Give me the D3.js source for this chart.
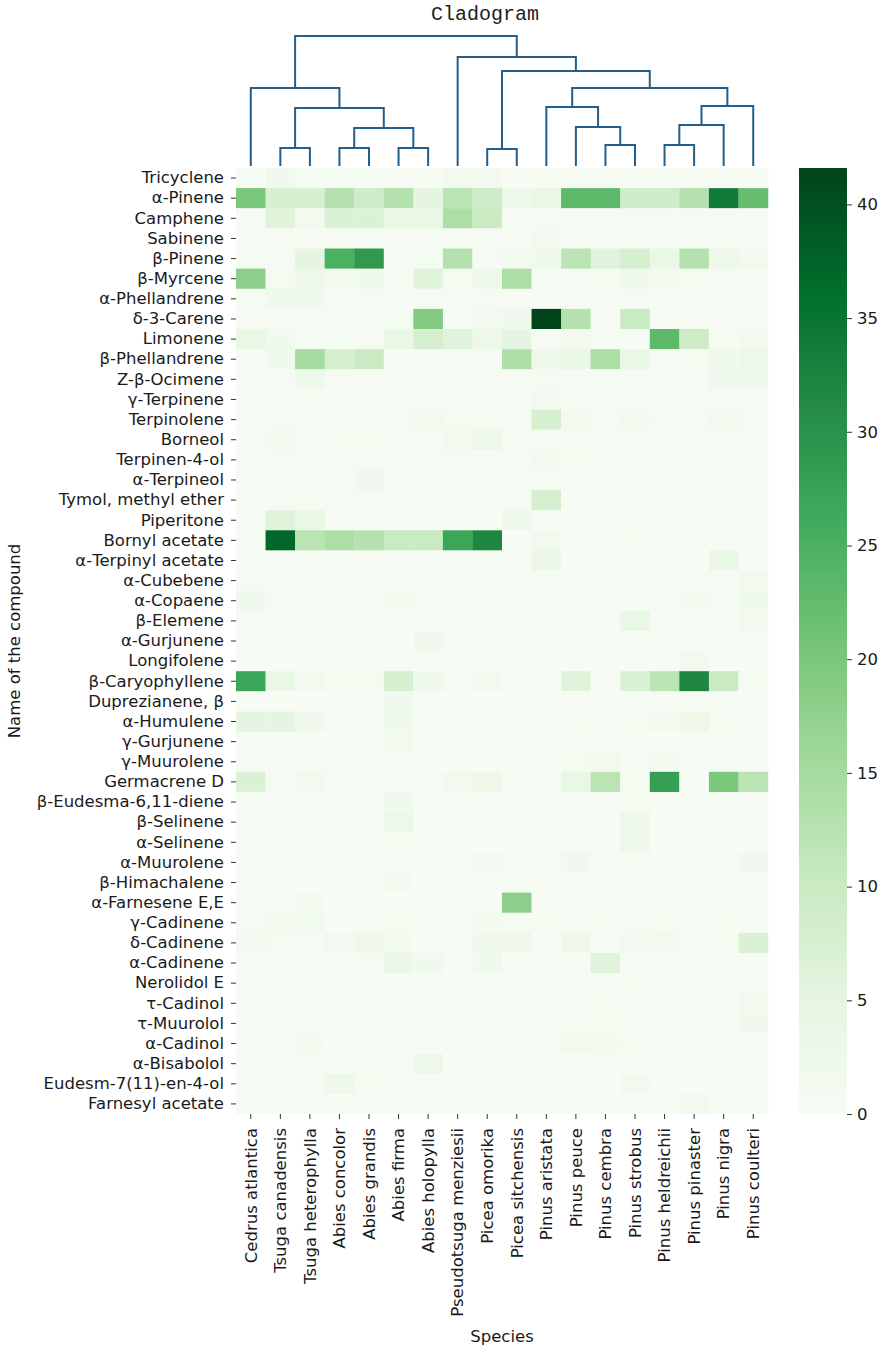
<!DOCTYPE html>
<html>
<head>
<meta charset="utf-8">
<script src="https://cdn.jsdelivr.net/npm/d3@7"></script>
<style>
  body { margin: 0; background: #fff; }
  svg { display: block; }
  .tick text { font-family: "DejaVu Sans", sans-serif; font-size: 16.5px; fill: #1a1a1a; }
  .tick line { stroke: #333; }
  .axis-title { font-family: "DejaVu Sans", sans-serif; font-size: 16.5px; fill: #1a1a1a; }
</style>
</head>
<body>
<div id="wrapper"></div>
<script>
// species in clustered (dendrogram leaf) order
const species = ["Cedrus atlantica", "Tsuga canadensis", "Tsuga heterophylla", "Abies concolor",
  "Abies grandis", "Abies firma", "Abies holopylla", "Pseudotsuga menziesii", "Picea omorika",
  "Picea sitchensis", "Pinus aristata", "Pinus peuce", "Pinus cembra", "Pinus strobus",
  "Pinus heldreichii", "Pinus pinaster", "Pinus nigra", "Pinus coulteri"];

const compounds = ["Tricyclene", "α-Pinene", "Camphene", "Sabinene", "β-Pinene", "β-Myrcene",
  "α-Phellandrene", "δ-3-Carene", "Limonene", "β-Phellandrene", "Z-β-Ocimene", "γ-Terpinene",
  "Terpinolene", "Borneol", "Terpinen-4-ol", "α-Terpineol", "Tymol, methyl ether", "Piperitone",
  "Bornyl acetate", "α-Terpinyl acetate", "α-Cubebene", "α-Copaene", "β-Elemene", "α-Gurjunene",
  "Longifolene", "β-Caryophyllene", "Duprezianene, β", "α-Humulene", "γ-Gurjunene", "γ-Muurolene",
  "Germacrene D", "β-Eudesma-6,11-diene", "β-Selinene", "α-Selinene", "α-Muurolene",
  "β-Himachalene", "α-Farnesene E,E", "γ-Cadinene", "δ-Cadinene", "α-Cadinene", "Nerolidol E",
  "τ-Cadinol", "τ-Muurolol", "α-Cadinol", "α-Bisabolol", "Eudesm-7(11)-en-4-ol", "Farnesyl acetate"];

// % of each compound (rows) per species (columns)
const values = [
  [0.3, 2, 1, 0.8, 0.8, 0.5, 0.5, 1.5, 1.5, 0.3, 0.3, 0.5, 0.5, 0.5, 0.5, 0.5, 0.5, 0.5],
  [20, 8, 8, 13, 9, 13, 5, 12, 9, 3, 4, 23, 23, 9, 9, 13, 34, 22],
  [0.5, 6, 1.5, 7, 7, 4, 4, 14, 10, 0.5, 0.5, 0.5, 0.5, 0.5, 0.5, 0.5, 0.5, 0.5],
  [0.5, 0.5, 0.5, 0.5, 0.5, 0.5, 0.5, 0.5, 0.5, 0.5, 1.5, 0.5, 0.5, 0.5, 0.5, 0.5, 0.5, 0.5],
  [0.5, 0.5, 5, 25, 29, 0.5, 1, 13, 0.5, 1.5, 2, 12, 6, 8, 4, 13, 3, 1.5],
  [18, 1, 3, 1.5, 2, 0.5, 6, 1, 2.5, 14, 0.5, 0.5, 1, 2.5, 1.5, 1, 0.5, 0.5],
  [0.5, 2, 2, 0.5, 0.5, 0.5, 0.5, 0.5, 0.5, 0.5, 0.5, 0.5, 0.5, 0.5, 0.5, 0.5, 0.5, 0.5],
  [0.5, 0.5, 0.5, 0.5, 0.5, 1, 19, 0.5, 1.5, 2, 41.6, 13, 0.5, 10, 0.5, 0.5, 0.5, 0.5],
  [4, 2, 1, 1, 0.5, 4, 8, 6, 3, 5, 0.5, 1.5, 0.5, 0.5, 23, 9, 1, 1.5],
  [0.5, 2, 15, 8, 10, 0.5, 0.5, 0.5, 0.5, 14, 3, 4, 14, 4, 0.5, 1, 2, 3],
  [0.5, 0.5, 2.5, 0.5, 0.5, 0.5, 0.5, 0.5, 0.5, 0.5, 0.5, 0.5, 0.5, 0.5, 0.5, 0.5, 2, 2],
  [0.5, 0.5, 0.5, 0.5, 0.5, 0.5, 0.5, 0.5, 0.5, 0.5, 1.5, 0.5, 0.5, 0.5, 0.5, 0.5, 0.5, 0.5],
  [0.3, 0.5, 0.5, 0.5, 0.5, 0.5, 1.5, 1, 1, 0.5, 8, 1.5, 0.5, 1.5, 0.5, 0.5, 1.5, 0.5],
  [0.5, 1.5, 0.5, 1, 1, 0.5, 0.5, 1.5, 3, 0.5, 0.5, 0.5, 0.5, 0.5, 0.5, 0.5, 0.5, 0.5],
  [0.5, 0.5, 0.5, 0.5, 0.5, 0.5, 0.5, 0.8, 0.5, 0.5, 1.5, 1, 0.5, 0.5, 0.5, 0.5, 0.5, 0.5],
  [0.5, 0.5, 0.5, 0.5, 2, 0.5, 0.5, 0.5, 0.5, 0.5, 0.5, 0.5, 0.5, 0.5, 0.5, 0.5, 0.5, 0.5],
  [0.5, 0.5, 1, 0.5, 0.5, 0.5, 0.5, 0.5, 0.5, 0.5, 8, 0.5, 0.8, 0.5, 0.5, 0.5, 0.8, 0.5],
  [0.3, 6, 4, 0.3, 0.3, 0.3, 0.3, 0.3, 0.3, 2.5, 0.3, 0.3, 0.3, 0.3, 0.3, 0.3, 0.3, 0.3],
  [0.3, 37, 12, 14, 13, 10, 10, 27, 32, 0.3, 1.5, 0.5, 0.5, 1, 0.5, 0.5, 0.8, 0.5],
  [0.3, 0.3, 0.3, 0.3, 0.3, 0.3, 0.3, 0.3, 0.8, 0.3, 3.5, 0.3, 0.3, 0.3, 0.8, 0.3, 4, 0.3],
  [0.5, 0.5, 0.5, 0.8, 0.5, 0.8, 0.5, 0.5, 0.5, 0.5, 0.5, 0.5, 0.5, 0.5, 0.5, 0.5, 0.5, 1.5],
  [2, 0.5, 0.5, 0.8, 0.5, 1.2, 0.5, 0.5, 0.5, 0.5, 0.8, 0.8, 0.5, 0.5, 0.5, 1.2, 0.5, 2.5],
  [0.3, 0.3, 0.3, 0.3, 0.3, 0.3, 0.3, 0.3, 0.3, 0.3, 0.3, 0.3, 0.3, 4, 0.3, 0.3, 0.3, 1.5],
  [0.3, 0.3, 0.3, 0.3, 0.3, 0.3, 2, 0.3, 0.3, 0.3, 0.3, 0.3, 0.3, 0.3, 0.3, 0.3, 0.3, 0.3],
  [0.3, 0.3, 0.3, 0.3, 0.3, 0.8, 0.3, 0.3, 0.3, 0.3, 0.3, 0.3, 0.3, 0.3, 0.3, 1.5, 0.3, 0.3],
  [27, 4, 1.5, 1, 1, 8, 2, 0.5, 1.5, 0.3, 0.3, 6, 0.5, 7, 12, 32, 10, 1],
  [0.3, 0.3, 0.3, 0.3, 0.3, 2, 0.3, 0.3, 0.3, 0.3, 0.3, 0.3, 0.3, 0.3, 0.3, 0.3, 0.3, 0.3],
  [5, 5, 2, 0.5, 0.5, 2, 0.5, 0.5, 0.5, 0.5, 0.5, 1, 0.5, 1, 1.5, 3, 1, 0.5],
  [0.3, 0.3, 0.3, 0.3, 0.3, 1.5, 0.3, 0.3, 0.3, 0.3, 0.3, 0.3, 0.3, 0.3, 0.3, 0.3, 0.3, 0.3],
  [0.5, 0.3, 0.5, 0.3, 0.3, 0.3, 0.3, 0.3, 0.3, 0.3, 0.3, 1, 1.5, 0.5, 1.2, 0.3, 0.8, 0.8],
  [7, 0.5, 1.5, 0.5, 0.3, 0.5, 0.5, 1.5, 3, 0.3, 0.3, 4, 12, 1, 28, 0, 20, 12],
  [0.3, 0.3, 0.3, 0.3, 0.3, 2, 0.3, 0.3, 0.3, 0.3, 0.3, 0.3, 0.3, 1, 0.3, 0.3, 0.3, 0.3],
  [0.3, 0.3, 0.3, 0.3, 0.3, 3, 0.3, 0.3, 0.3, 0.3, 0.3, 0.3, 0.3, 3, 0.3, 0.3, 0.3, 0.8],
  [0.3, 0.3, 0.3, 0.3, 0.3, 1, 0.3, 0.3, 0.3, 0.3, 0.3, 0.3, 0.3, 3, 0.3, 0.3, 0.3, 0.3],
  [1, 0.5, 0.5, 0.5, 1, 0.5, 0.5, 0.5, 1.5, 0.8, 0.5, 2, 0.3, 0.5, 1, 1, 0.5, 2],
  [0.3, 0.3, 0.3, 0.3, 0.3, 1.2, 0.3, 0.3, 0.3, 0.3, 0.3, 0.3, 0.8, 0.3, 0.3, 0.3, 0.3, 0.3],
  [0.3, 0.3, 1.2, 0.3, 0.3, 0.3, 0.3, 0.3, 0.3, 18, 0.3, 0.3, 0.3, 0.3, 0.3, 0.3, 0.3, 0.3],
  [0.5, 1.2, 1.8, 0.3, 0.3, 1, 0.8, 0.5, 1.2, 1, 1, 0.8, 1, 0.5, 1, 0.8, 1, 0.8],
  [1.5, 1, 0.5, 1.5, 2.5, 1.2, 0.3, 0.5, 2, 2.5, 0.3, 2.5, 0.5, 1.5, 1.5, 0.3, 1, 7],
  [0.5, 0.5, 0.3, 0.3, 0.5, 3.5, 2, 0.3, 2, 0.3, 0.3, 0.3, 6, 0.3, 0.5, 0.3, 0.3, 0.3],
  [0.3, 0.5, 0.3, 0.3, 0.3, 0.3, 0.3, 0.3, 0.3, 0.3, 0.3, 0.3, 0.3, 1, 0.3, 0.3, 0.3, 0.3],
  [0.3, 0.3, 0.3, 0.3, 0.3, 0.3, 0.3, 0.3, 0.5, 0.3, 0.3, 0.8, 1, 0.3, 0.3, 0.3, 0.3, 1.5],
  [0.8, 0.5, 0.5, 0.5, 1, 0.5, 0.5, 0.5, 0.8, 0.5, 0.5, 1, 1, 0.5, 0.5, 0.5, 0.5, 2],
  [0.3, 0.3, 1.2, 0.3, 0.3, 0.3, 0.3, 0.3, 0.3, 0.3, 0.3, 1.5, 1.2, 1, 0.3, 0.3, 0.5, 0.3],
  [0.3, 0.3, 0.3, 0.3, 0.3, 0.3, 3, 0.3, 0.3, 0.3, 0.3, 0.3, 0.3, 0.3, 0.3, 0.3, 0.3, 0.3],
  [0.3, 0.3, 0.3, 2.5, 1, 0.3, 0.3, 0.3, 0.3, 0.3, 0.3, 0.3, 0.3, 1.5, 0.3, 0.3, 0.3, 0.3],
  [0.3, 0.3, 0.3, 0.3, 0.3, 0.3, 0.3, 0.3, 0.3, 0.3, 0.3, 0.3, 0.3, 0.3, 0.3, 1.5, 0.3, 0.3]
];

// linkage: [child a, child b, height]; leaves are 0..17, merged clusters 18, 19, ...
const linkage = [
  [1, 2, 18], [3, 4, 18], [5, 6, 18], [8, 9, 17], [12, 13, 21], [14, 15, 21],
  [19, 20, 38], [11, 22, 39], [23, 16, 41], [18, 24, 58], [10, 25, 59], [26, 17, 60],
  [0, 27, 78], [28, 29, 78], [21, 31, 95], [7, 32, 109], [30, 33, 130]
];

const cbTicks = [0, 5, 10, 15, 20, 25, 30, 35, 40];

const W = 886, H = 1352;
const hm = {left: 236, right: 768, top: 168, bottom: 1114};
const cb = {left: 799, right: 847};
const dend = {top: 36, bottom: 166};

const svg = d3.select("#wrapper").append("svg")
  .attr("width", W).attr("height", H)
  .attr("viewBox", `0 0 ${W} ${H}`);
svg.append("rect").attr("width", W).attr("height", H).attr("fill", "#fff");

const x = d3.scaleBand().domain(species).range([hm.left, hm.right]);
const y = d3.scaleBand().domain(compounds).range([hm.top, hm.bottom]);

const vmax = d3.max(values, r => d3.max(r));
const greens = d3.schemeGreens[9];
const color = d3.scaleLinear()
  .domain(greens.map((_, i) => i / 8 * vmax))
  .range(greens)
  .clamp(true);

// heatmap cells
const cells = [];
values.forEach((row, i) => row.forEach((v, j) => cells.push({c: compounds[i], s: species[j], v})));
svg.append("g").selectAll("rect")
  .data(cells)
  .join("rect")
  .attr("x", d => x(d.s))
  .attr("y", d => y(d.c))
  .attr("width", x.bandwidth() + 0.3)
  .attr("height", y.bandwidth() + 0.3)
  .attr("fill", d => color(d.v));

// y axis
const yAxis = svg.append("g")
  .attr("transform", `translate(${hm.left},0)`)
  .call(d3.axisLeft(y).tickSize(5).tickPadding(7));
yAxis.select(".domain").remove();

// x axis, rotated labels
const xAxis = svg.append("g")
  .attr("transform", `translate(0,${hm.bottom})`)
  .call(d3.axisBottom(x).tickSize(5).tickPadding(4));
xAxis.select(".domain").remove();
xAxis.selectAll("text")
  .attr("transform", "rotate(-90)")
  .attr("x", -14)
  .attr("y", 0)
  .attr("dy", "0.35em")
  .style("text-anchor", "end");

svg.append("text").attr("class", "axis-title")
  .attr("transform", `translate(20,${(hm.top + hm.bottom) / 2}) rotate(-90)`)
  .attr("text-anchor", "middle")
  .text("Name of the compound");

svg.append("text").attr("class", "axis-title")
  .attr("x", (hm.left + hm.right) / 2).attr("y", 1342)
  .attr("text-anchor", "middle")
  .text("Species");

// colorbar
const cbScale = d3.scaleLinear().domain([0, vmax]).range([hm.bottom, hm.top]);
const defs = svg.append("defs");
const grad = defs.append("linearGradient").attr("id", "cbgrad")
  .attr("x1", 0).attr("y1", 1).attr("x2", 0).attr("y2", 0);
grad.selectAll("stop")
  .data(color.domain())
  .join("stop")
  .attr("offset", d => d / vmax)
  .attr("stop-color", d => color(d));
svg.append("rect")
  .attr("x", cb.left).attr("y", hm.top)
  .attr("width", cb.right - cb.left).attr("height", hm.bottom - hm.top)
  .attr("fill", "url(#cbgrad)");
const cbAxis = svg.append("g")
  .attr("transform", `translate(${cb.right},0)`)
  .call(d3.axisRight(cbScale).tickValues(cbTicks).tickSize(5).tickPadding(5));
cbAxis.select(".domain").remove();

// dendrogram
const dY = d3.scaleLinear().domain([0, d3.max(linkage, d => d[2])]).range([dend.bottom, dend.top]);
const nodes = species.map(s => ({x: x(s) + x.bandwidth() / 2, h: 0}));
const links = [];
linkage.forEach(([a, b, h]) => {
  const A = nodes[a], B = nodes[b];
  links.push([[A.x, dY(A.h)], [A.x, dY(h)], [B.x, dY(h)], [B.x, dY(B.h)]]);
  nodes.push({x: (A.x + B.x) / 2, h});
});
svg.append("g").selectAll("path")
  .data(links)
  .join("path")
  .attr("d", d3.line())
  .attr("fill", "none")
  .attr("stroke", "#245f8a")
  .attr("stroke-width", 2);

svg.append("text")
  .attr("x", 485).attr("y", 20)
  .attr("text-anchor", "middle")
  .style("font-family", "'Liberation Mono', monospace")
  .style("font-size", "20px")
  .attr("fill", "#222")
  .text("Cladogram");
</script>
</body>
</html>
